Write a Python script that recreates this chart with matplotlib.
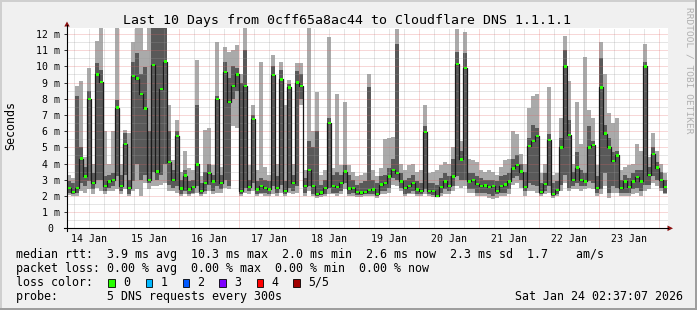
import numpy as np
import matplotlib
matplotlib.use("Agg")
import matplotlib.pyplot as plt
from matplotlib.lines import Line2D
from matplotlib.patches import Rectangle, Polygon

# median rtt and smoke bands (ms), one value per ~1.6 h bin, 14 Jan 03:12 .. 24 Jan 02:37
med = [2.5, 2.25, 2.5, 4.3, 3.2, 8.0, 2.8, 9.5, 9.05, 2.6, 2.9, 3.0, 7.45, 2.6, 5.2, 2.5, 9.4, 9.25, 8.3, 7.4,
       3.0, 10.1, 3.5, 8.6, 10.3, 4.1, 3.0, 5.7, 2.45, 3.25, 2.4, 2.55, 3.95, 2.3, 2.8, 3.4, 2.9, 8.0, 2.8, 9.65,
       7.8, 8.8, 9.5, 2.3, 8.8, 2.55, 6.75, 2.4, 2.6, 2.5, 2.4, 9.45, 2.5, 9.2, 2.3, 8.7, 2.8, 9.0, 8.8, 2.6,
       3.6, 2.6, 2.1, 2.2, 2.5, 6.5, 2.6, 2.55, 2.8, 3.5, 2.45, 2.5, 2.25, 2.2, 2.25, 2.35, 2.4, 2.1, 2.7, 2.8,
       3.2, 3.6, 3.4, 2.9, 2.5, 2.6, 2.8, 2.4, 2.3, 5.95, 2.3, 2.3, 2.0, 2.55, 2.9, 2.6, 3.2, 10.15, 4.25, 9.9,
       2.9, 3.0, 2.75, 2.6, 2.65, 2.55, 2.6, 2.3, 2.6, 2.7, 2.9, 3.7, 3.9, 3.5, 2.55, 5.1, 5.4, 5.7, 2.25, 2.75,
       5.45, 2.1, 2.35, 5.0, 10.0, 5.75, 3.0, 3.75, 3.0, 2.9, 5.0, 5.15, 2.5, 8.7, 5.85, 5.0, 4.15, 4.5, 2.5, 2.9,
       2.55, 2.9, 3.15, 2.9, 10.0, 3.3, 4.6, 3.75, 3.0, 2.55]
lo = [2.05, 2.0, 2.0, 2.3, 2.2, 2.4, 2.1, 2.5, 2.3, 2.1, 2.3, 2.3, 2.4, 2.1, 2.4, 2.0, 2.3, 2.4, 2.0, 2.8,
      2.4, 2.6, 2.6, 2.7, 2.8, 2.3, 2.3, 2.2, 2.0, 2.1, 2.0, 2.1, 2.2, 2.0, 2.1, 2.3, 2.1, 2.2, 2.2, 2.5,
      2.4, 6.3, 6.2, 2.0, 2.2, 2.1, 2.3, 2.0, 2.1, 2.0, 2.0, 2.1, 2.0, 2.2, 2.0, 2.2, 2.1, 2.2, 7.6, 2.0,
      2.3, 2.0, 1.9, 1.95, 2.0, 2.1, 2.1, 2.0, 2.1, 2.4, 2.0, 2.0, 1.95, 1.95, 2.0, 2.0, 2.0, 1.9, 2.1, 2.1,
      2.2, 2.7, 2.6, 2.3, 2.0, 2.1, 2.1, 2.0, 2.0, 2.1, 2.0, 1.95, 1.95, 2.0, 2.1, 2.1, 2.3, 2.6, 2.5, 2.6,
      2.2, 2.2, 2.0, 2.0, 2.0, 1.9, 1.8, 1.9, 2.0, 2.0, 2.1, 2.7, 2.8, 2.5, 2.0, 2.3, 2.3, 2.2, 2.0, 2.1,
      2.2, 1.9, 2.0, 2.3, 2.8, 2.3, 2.4, 2.4, 2.3, 2.4, 2.5, 2.4, 2.0, 2.1, 2.6, 1.9, 2.2, 2.2, 2.0, 2.0,
      2.0, 2.1, 2.2, 2.0, 2.3, 2.4, 2.8, 2.6, 2.3, 2.1]
dlo = [2.15, 2.1, 2.2, 2.8, 2.6, 2.9, 2.4, 3.0, 3.0, 2.3, 2.5, 2.6, 3.2, 2.3, 3.3, 2.1, 2.9, 4.0, 3.0, 3.3,
       2.8, 3.5, 3.0, 3.3, 4.0, 2.7, 2.5, 2.6, 2.1, 2.3, 2.1, 2.2, 2.6, 2.1, 2.3, 2.7, 2.3, 2.6, 2.4, 3.0,
       2.6, 8.0, 8.5, 2.1, 2.5, 2.3, 2.8, 2.1, 2.2, 2.2, 2.1, 2.6, 2.2, 2.7, 2.1, 2.5, 2.3, 2.6, 8.0, 2.2,
       2.6, 2.1, 2.0, 2.05, 2.1, 2.5, 2.2, 2.2, 2.3, 2.8, 2.1, 2.2, 2.05, 2.05, 2.1, 2.1, 2.1, 2.0, 2.3, 2.3,
       2.5, 3.1, 3.0, 2.5, 2.1, 2.2, 2.3, 2.1, 2.1, 2.4, 2.1, 2.05, 2.0, 2.2, 2.4, 2.3, 2.6, 3.2, 3.0, 3.0,
       2.4, 2.4, 2.2, 2.2, 2.2, 2.1, 2.0, 2.1, 2.2, 2.2, 2.4, 3.1, 3.2, 3.0, 2.3, 2.8, 2.7, 2.6, 2.1, 2.3,
       2.6, 2.0, 2.1, 2.7, 3.3, 2.5, 2.6, 2.8, 2.6, 2.6, 2.9, 2.8, 2.2, 2.4, 3.4, 2.2, 2.6, 2.5, 2.2, 2.2,
       2.2, 2.4, 2.5, 2.3, 2.7, 2.7, 3.2, 3.0, 2.5, 2.2]
dhi = [2.9, 2.8, 8.2, 5.0, 3.8, 8.5, 3.4, 10.2, 9.8, 3.2, 3.3, 3.4, 7.9, 3.3, 5.9, 3.0, 10.3, 10.85, 9.5, 9.95,
       6.0, 12.4, 12.4, 12.4, 12.4, 6.0, 3.6, 6.0, 3.0, 3.6, 2.9, 3.0, 7.6, 2.8, 3.5, 4.0, 3.3, 8.2, 3.3, 10.3,
       9.3, 10.0, 9.9, 9.0, 11.0, 3.0, 7.0, 2.9, 3.1, 3.0, 2.9, 10.0, 3.2, 9.8, 2.9, 8.9, 3.3, 9.7, 9.5, 3.1,
       5.4, 5.0, 6.0, 2.7, 3.0, 6.8, 3.3, 3.5, 3.3, 3.9, 3.3, 3.0, 2.7, 2.8, 2.9, 8.7, 3.0, 2.8, 3.2, 3.3,
       3.7, 4.3, 11.4, 3.4, 3.0, 3.1, 3.3, 2.9, 2.8, 6.3, 2.8, 2.8, 2.7, 3.1, 3.4, 3.2, 4.3, 10.9, 4.8, 10.8,
       3.4, 3.4, 3.2, 3.1, 3.0, 3.0, 3.0, 2.9, 3.2, 3.3, 3.4, 4.3, 4.5, 4.0, 3.5, 5.6, 6.4, 6.2, 2.8, 3.4,
       5.8, 2.8, 2.9, 5.6, 11.0, 6.7, 3.5, 4.7, 3.6, 3.4, 6.3, 5.4, 3.2, 10.5, 6.4, 5.6, 4.7, 4.8, 3.0, 3.3,
       3.1, 3.4, 3.6, 3.6, 10.3, 3.8, 5.0, 4.1, 3.5, 3.0]
hi = [3.3, 3.1, 8.8, 9.1, 4.4, 9.9, 4.0, 11.55, 12.4, 6.0, 4.0, 6.0, 12.4, 4.0, 6.1, 5.9, 11.5, 12.4, 12.4, 11.0,
      12.4, 12.4, 12.4, 12.4, 12.4, 7.6, 4.2, 6.7, 3.5, 4.8, 3.7, 3.6, 10.4, 3.2, 6.05, 6.2, 3.9, 11.5, 3.8, 11.2,
      10.9, 11.0, 11.3, 9.5, 12.4, 3.9, 7.6, 3.6, 10.3, 3.8, 3.3, 10.7, 4.0, 10.3, 7.6, 9.15, 4.0, 10.2, 10.2, 3.6,
      12.4, 6.0, 8.4, 3.3, 3.6, 11.8, 3.7, 8.3, 3.9, 7.8, 3.9, 3.5, 3.2, 3.3, 3.4, 9.55, 3.6, 3.2, 3.7, 5.5,
      5.6, 5.65, 12.3, 4.0, 3.6, 3.9, 4.0, 3.5, 3.6, 7.6, 3.4, 3.5, 3.6, 3.9, 4.1, 4.0, 5.0, 12.3, 5.4, 12.1,
      4.3, 4.2, 4.1, 3.6, 3.5, 3.6, 3.5, 3.3, 3.8, 4.2, 4.3, 6.0, 5.8, 4.6, 4.0, 7.4, 8.2, 8.3, 3.4, 4.0,
      8.7, 3.3, 3.4, 6.8, 11.9, 9.1, 4.0, 7.8, 5.2, 10.6, 7.3, 6.8, 3.9, 11.5, 9.5, 7.1, 6.5, 6.8, 3.6, 3.8,
      3.9, 4.0, 5.2, 4.8, 11.4, 4.4, 5.9, 4.8, 4.0, 3.4]

days = ["14 Jan", "15 Jan", "16 Jan", "17 Jan", "18 Jan", "19 Jan", "20 Jan", "21 Jan", "22 Jan", "23 Jan"]
ytick_labels = ["0 ", "1 m", "2 m", "3 m", "4 m", "5 m", "6 m", "7 m", "8 m", "9 m", "10 m", "11 m", "12 m"]
loss_labels = ["0", "1", "2", "3", "4", "5/5"]
loss_colors = ["#26ff00", "#00b8ff", "#0059ff", "#7e00ff", "#ff0000", "#a00000"]

W, H = 697, 310
def fx(px):
    return px / W
def fy(py):
    return 1 - py / H

mono = "DejaVu Sans Mono"
plt.rcParams["font.family"] = mono

fig = plt.figure(figsize=(W / 100, H / 100), dpi=100, facecolor="#f0f0f0")
ax = fig.add_axes([fx(67), fy(228.3), (668 - 67) / W, (228.3 - 28) / H])
ax.set_facecolor("white")

# time axis in hours since 14 Jan 00:00 (2.5 px per hour)
t = 4 + 1.6 * np.arange(len(med))
bw = 1.6
med = np.array(med); lo = np.array(lo); dlo = np.array(dlo); dhi = np.array(dhi); hi = np.array(hi)

ax.bar(t, hi - lo, bottom=lo, width=bw * 1.02, color="#aaaaaa", linewidth=0, antialiased=False, zorder=1)
ax.bar(t, dhi - dlo, bottom=dlo, width=bw * 1.02, color="#595959", linewidth=0, antialiased=False, zorder=2)

# grid, dotted like rrdtool
red = (0.88, 0.38, 0.38, 0.5)
gray = (0.6, 0.6, 0.6, 0.5)
for h in np.arange(6, 244, 6):
    ax.axvline(h, color=red if h % 24 == 0 else gray, lw=0.72, ls=(0, (1, 1)), zorder=3)
for v in np.arange(0.5, 12.4, 0.5):
    ax.axhline(v, color=red if v % 1 == 0 else gray, lw=0.72, ls=(0, (1, 1)), zorder=3)

ax.plot(t, med, drawstyle="steps-mid", color="#1a1a1a", lw=0.9, zorder=4)
mh = 2.4 / 16.19
ax.bar(t, mh, bottom=med - mh / 2, width=1.2, color="#26ff00", linewidth=0, zorder=5)

ax.set_xlim(3.2, 243.6)
ax.set_ylim(0, 12.37)
for s in ax.spines.values():
    s.set_visible(False)
ax.set_yticks(range(13))
ax.set_yticklabels(ytick_labels, fontsize=7.15)
ax.set_xticks([12 + 24 * k for k in range(10)])
ax.set_xticklabels(days, fontsize=7.15)
ax.tick_params(axis="y", length=2, width=0.7, pad=3, color="#333333")
ax.tick_params(axis="x", length=0, pad=4)

# axes with arrows
fig.add_artist(Line2D([fx(67), fx(67)], [fy(231), fy(25)], color="black", lw=0.8))
fig.add_artist(Line2D([fx(64), fx(668)], [fy(228.3), fy(228.3)], color="black", lw=0.8))
fig.add_artist(Polygon([[fx(64.3), fy(26.5)], [fx(69.7), fy(26.5)], [fx(67), fy(21.5)]], closed=True,
                       color="#8b1010", lw=0))
fig.add_artist(Polygon([[fx(667.5), fy(225.5)], [fx(667.5), fy(231.1)], [fx(673), fy(228.3)]], closed=True,
                       color="#8b1010", lw=0))

# frame
fig.add_artist(Rectangle((0, fy(2)), 1, fy(0) - fy(2), color="#cfcfcf", lw=0))
fig.add_artist(Rectangle((0, 0), fx(2), 1, color="#cfcfcf", lw=0))
fig.add_artist(Rectangle((0, 0), 1, 1 - fy(2), color="#9e9e9e", lw=0))
fig.add_artist(Rectangle((fx(695), 0), fx(2), 1, color="#9e9e9e", lw=0))

fig.text(fx(347), fy(24), "Last 10 Days from 0cff65a8ac44 to Cloudflare DNS 1.1.1.1",
         ha="center", va="baseline", fontsize=9.5)
fig.text(fx(10.5), fy(126), "Seconds", rotation=90, ha="center", va="center", fontsize=8.4)
fig.text(fx(688.5), fy(70), "RRDTOOL / TOBI OETIKER", rotation=270, ha="center", va="center",
         fontsize=6.8, color="#b0b0b0")

fs = 8.4
fig.text(fx(16), fy(258), "median rtt:  3.9 ms avg  10.3 ms max  2.0 ms min  2.6 ms now  2.3 ms sd  1.7    am/s",
         ha="left", va="baseline", fontsize=fs)
fig.text(fx(16), fy(272), "packet loss: 0.00 % avg  0.00 % max  0.00 % min  0.00 % now",
         ha="left", va="baseline", fontsize=fs)
fig.text(fx(16), fy(285.7), "loss color:", ha="left", va="baseline", fontsize=fs)
box_x = [108.3, 145.7, 182.7, 219.3, 256.7, 293.3]
for bx, lab, col in zip(box_x, loss_labels, loss_colors):
    fig.add_artist(Rectangle((fx(bx), fy(286.5)), 6.7 / W, 7.7 / H, facecolor=col, edgecolor="black", lw=0.6))
    fig.text(fx(bx + 14.8), fy(285.7), lab, ha="left", va="baseline", fontsize=fs)
fig.text(fx(16), fy(299.7), "probe:       5 DNS requests every 300s", ha="left", va="baseline", fontsize=fs)
fig.text(fx(683), fy(299.7), "Sat Jan 24 02:37:07 2026", ha="right", va="baseline", fontsize=fs)

fig.savefig("out.png", dpi=100, facecolor=fig.get_facecolor())
